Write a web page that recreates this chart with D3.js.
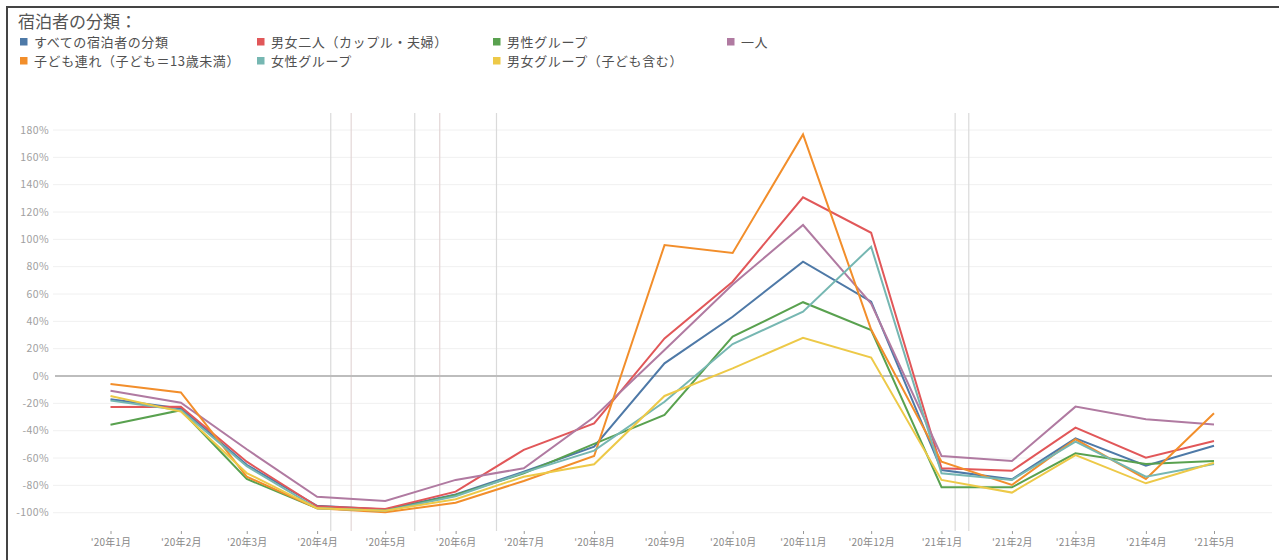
<!DOCTYPE html>
<html><head><meta charset="utf-8">
<script src="https://cdn.jsdelivr.net/npm/d3@7"></script>
<style>
html,body{margin:0;padding:0;background:#fff;}
svg{display:block;font-family:"Noto Sans CJK JP","Noto Sans",sans-serif;}
</style></head>
<body><svg id="c" width="1279" height="560"></svg>
<script>
const months = ["2020-01","2020-02","2020-03","2020-04","2020-05","2020-06","2020-07","2020-08","2020-09","2020-10","2020-11","2020-12","2021-01","2021-02","2021-03","2021-04","2021-05"];
const monthLabels = ["'20年1月","'20年2月","'20年3月","'20年4月","'20年5月","'20年6月","'20年7月","'20年8月","'20年9月","'20年10月","'20年11月","'20年12月","'21年1月","'21年2月","'21年3月","'21年4月","'21年5月"];
const yTicks = [-100,-80,-60,-40,-20,0,20,40,60,80,100,120,140,160,180];
const refDates = ["2020-04-07","2020-04-16","2020-05-14","2020-05-25","2020-06-19","2021-01-07","2021-01-13"];
const refKinds = ["a","b","a","b","a","a","a"];

const seriesNames = ["すべての宿泊者の分類","男女二人（カップル・夫婦）","男性グループ","一人","子ども連れ（子ども＝13歳未満）","女性グループ","男女グループ（子ども含む）"];
const seriesColors = ["#4e79a7","#e15759","#59a14f","#b07aa1","#f28e2b","#76b7b2","#edc948"];
const allGuests   = [-17,-23.7,-65,-95,-97.6,-86.6,-70,-51.7,9.3,43.4,83.6,54.4,-68.8,-75.6,-45.6,-65.6,-51];
const couple      = [-22.7,-22.4,-62.7,-95.3,-97.3,-84.6,-54,-34.6,27.5,69,130.7,104.8,-67.5,-69.3,-37.8,-59.7,-47.5];
const maleGroup   = [-35.6,-25,-75.3,-96.8,-98.5,-87,-71.2,-49.7,-28.5,28.8,54,33.6,-81.4,-81.4,-56.6,-64.4,-62.2];
const solo        = [-10.7,-19.5,-53.6,-88.3,-91.4,-76,-67.5,-30,19,67,110.5,53,-58.5,-62.2,-22.4,-31.7,-35.4];
const withKids    = [-5.9,-12,-73.6,-96.8,-99.7,-92.7,-76.8,-58.5,95.8,90,176.8,34,-62.7,-79.7,-46.3,-75.3,-27.3];
const femaleGroup = [-18,-25,-66,-96.8,-98.5,-88,-70.7,-54.6,-18.8,23.4,47,94.6,-71.2,-76,-48,-73.6,-64.4];
const mixedGroup  = [-14.6,-26,-71,-96.8,-98.5,-90.2,-73.7,-64.6,-14.6,5.6,28,13.5,-76,-85.3,-57.8,-78.5,-63.4];
const seriesValues = [allGuests,couple,maleGroup,solo,withKids,femaleGroup,mixedGroup];

const svg = d3.select("#c");
const parseM = d3.timeParse("%Y-%m");
const parseD = d3.timeParse("%Y-%m-%d");
const dates = months.map(parseM);

const x = d3.scaleTime().domain([dates[0], dates[dates.length-1]]).range([110.5, 1214]);
const y = d3.scaleLinear().domain([-100,180]).range([512.7,130]);

// frame
svg.append("line").attr("x1",7).attr("x2",1279).attr("y1",7).attr("y2",7).attr("stroke","#444").attr("stroke-width",2);
svg.append("line").attr("x1",7).attr("x2",7).attr("y1",6).attr("y2",560).attr("stroke","#444").attr("stroke-width",2);

// title
svg.append("text").attr("x",18).attr("y",28).attr("font-size",17).attr("fill","#555").text("宿泊者の分類：");

// legend
const legCols = [20,257,493,727];
seriesNames.forEach((n,i)=>{
  const col = i<4 ? i : i-4;
  const row = i<4 ? 0 : 1;
  const gx = legCols[col], gy = 42 + row*19;
  svg.append("rect").attr("x",gx).attr("y",gy-4).attr("width",7.5).attr("height",7.5).attr("fill",seriesColors[i]);
  svg.append("text").attr("x",gx+14).attr("y",gy+4.5).attr("font-size",13).attr("letter-spacing",0.6).attr("fill","#505050").text(n);
});

// gridlines
svg.append("g").selectAll("line").data(yTicks.filter(t=>t!==0)).join("line")
  .attr("x1",53).attr("x2",1272).attr("y1",d=>y(d)).attr("y2",d=>y(d))
  .attr("stroke","#f0f0f0").attr("stroke-width",1);

// y labels
svg.append("g").selectAll("text").data(yTicks).join("text")
  .attr("x",49).attr("y",d=>y(d)+3.5).attr("text-anchor","end")
  .attr("font-size",10.5).attr("letter-spacing",0.4).attr("fill","#a0a0a0").text(d=>d+"%");

// reference lines
svg.append("g").selectAll("line").data(refDates).join("line")
  .attr("x1",d=>x(parseD(d))).attr("x2",d=>x(parseD(d)))
  .attr("y1",113).attr("y2",531)
  .attr("stroke",(d,i)=>refKinds[i]==="b"?"#e3d6d6":"#dadada").attr("stroke-width",1.2);

// zero line
svg.append("line").attr("x1",55).attr("x2",1272).attr("y1",y(0)).attr("y2",y(0)).attr("stroke","#bdbdbd").attr("stroke-width",2);

// x axis
const xAxis = d3.axisBottom(x).tickValues(dates).tickSize(3).tickPadding(5)
  .tickFormat((d,i)=>monthLabels[i]);
const gx = svg.append("g").attr("transform","translate(0,531)").call(xAxis);
gx.select(".domain").remove();
gx.selectAll(".tick line").attr("stroke","#999");
gx.selectAll(".tick text").attr("font-size",10).attr("letter-spacing",0.2).attr("fill","#888")
  .attr("font-family","\"Noto Sans CJK JP\",\"Noto Sans\",sans-serif");

// lines
const line = d3.line().x((d,i)=>x(dates[i])).y(d=>y(d));
svg.append("g").selectAll("path").data(seriesValues).join("path")
  .attr("d",d=>line(d)).attr("fill","none")
  .attr("stroke",(d,i)=>seriesColors[i]).attr("stroke-width",2)
  .attr("stroke-linejoin","miter");
</script></body></html>
